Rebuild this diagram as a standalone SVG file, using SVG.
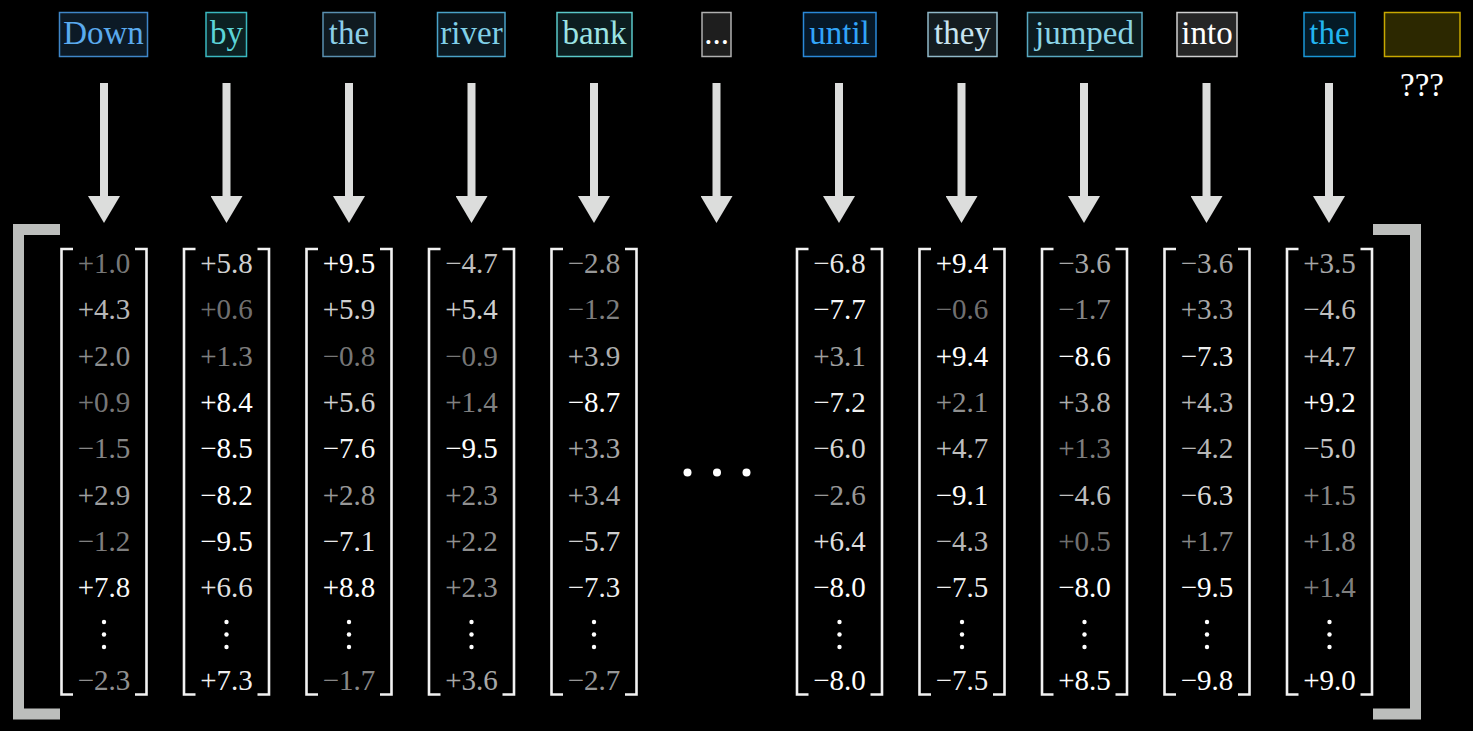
<svg xmlns="http://www.w3.org/2000/svg" width="1473" height="731" viewBox="0 0 1473 731">
<defs>
<marker id="ah" markerUnits="userSpaceOnUse" markerWidth="28" markerHeight="32" refX="0" refY="16" orient="auto"><path d="M0,0 L27,16 L0,32 z" fill="#dcdddc"/></marker>
</defs>
<style>
.word{font-family:'Liberation Serif','DejaVu Serif',serif;font-size:33px;text-anchor:middle}
.v{font-family:'Liberation Serif','DejaVu Serif',serif;font-size:29px;text-anchor:middle;fill:#ffffff}
.br{fill:none;stroke:#f2f2f2;stroke-width:2.6}
.big{fill:none;stroke:#bcbebc;stroke-width:11}
.arr{stroke:#dcdddc;stroke-width:8;fill:none}
.vd{fill:#ffffff}
</style>
<rect width="1473" height="731" fill="#000000"/>
<path class="big" d="M60,229.5 H18.5 V714 H60"/>
<path class="big" d="M1373,229.5 H1415.5 V714 H1373"/>
<g id="connectors">
<line class="arr" x1="104" y1="83" x2="104" y2="196" marker-end="url(#ah)"/>
<line class="arr" x1="226.5" y1="83" x2="226.5" y2="196" marker-end="url(#ah)"/>
<line class="arr" x1="349" y1="83" x2="349" y2="196" marker-end="url(#ah)"/>
<line class="arr" x1="471.5" y1="83" x2="471.5" y2="196" marker-end="url(#ah)"/>
<line class="arr" x1="594" y1="83" x2="594" y2="196" marker-end="url(#ah)"/>
<line class="arr" x1="716.5" y1="83" x2="716.5" y2="196" marker-end="url(#ah)"/>
<line class="arr" x1="839" y1="83" x2="839" y2="196" marker-end="url(#ah)"/>
<line class="arr" x1="961.5" y1="83" x2="961.5" y2="196" marker-end="url(#ah)"/>
<line class="arr" x1="1084" y1="83" x2="1084" y2="196" marker-end="url(#ah)"/>
<line class="arr" x1="1206.5" y1="83" x2="1206.5" y2="196" marker-end="url(#ah)"/>
<line class="arr" x1="1329" y1="83" x2="1329" y2="196" marker-end="url(#ah)"/>
</g>
<g id="col-down">
<rect x="59.5" y="12.5" width="88" height="44" fill="#0c1a26" stroke="#3f86c8" stroke-width="1.5"/>
<text class="word" x="103.5" y="43.5" fill="#5aaaee" font-family="Liberation Serif, serif">Down</text>
<path class="br" d="M73,249 H61.5 V694.5 H73 M135,249 H146.5 V694.5 H135"/>
<text class="v" x="104" y="273" fill-opacity=".49">+1.0</text>
<text class="v" x="104" y="319.3" fill-opacity=".73">+4.3</text>
<text class="v" x="104" y="365.7" fill-opacity=".56">+2.0</text>
<text class="v" x="104" y="412" fill-opacity=".48">+0.9</text>
<text class="v" x="104" y="458.3" fill-opacity=".53">−1.5</text>
<text class="v" x="104" y="504.7" fill-opacity=".63">+2.9</text>
<text class="v" x="104" y="551" fill-opacity=".51">−1.2</text>
<text class="v" x="104" y="597.3" fill-opacity=".98">+7.8</text>
<circle class="vd" cx="104" cy="622" r="2.2"/><circle class="vd" cx="104" cy="634.5" r="2.2"/><circle class="vd" cx="104" cy="647" r="2.2"/>
<text class="v" x="104" y="690" fill-opacity=".59">−2.3</text>
</g>
<g id="col-by">
<rect x="206" y="12.5" width="40.5" height="44" fill="#0c2022" stroke="#3ab8c0" stroke-width="1.5"/>
<text class="word" x="226.5" y="43.5" fill="#5cd4d8">by</text>
<path class="br" d="M195.5,249 H184 V694.5 H195.5 M257.5,249 H269 V694.5 H257.5"/>
<text class="v" x="226.5" y="273" fill-opacity=".84">+5.8</text>
<text class="v" x="226.5" y="319.3" fill-opacity=".46">+0.6</text>
<text class="v" x="226.5" y="365.7" fill-opacity=".51">+1.3</text>
<text class="v" x="226.5" y="412" fill-opacity="1">+8.4</text>
<text class="v" x="226.5" y="458.3" fill-opacity="1">−8.5</text>
<text class="v" x="226.5" y="504.7" fill-opacity="1">−8.2</text>
<text class="v" x="226.5" y="551" fill-opacity="1">−9.5</text>
<text class="v" x="226.5" y="597.3" fill-opacity=".9">+6.6</text>
<circle class="vd" cx="226.5" cy="622" r="2.2"/><circle class="vd" cx="226.5" cy="634.5" r="2.2"/><circle class="vd" cx="226.5" cy="647" r="2.2"/>
<text class="v" x="226.5" y="690" fill-opacity=".95">+7.3</text>
</g>
<g id="col-the">
<rect x="323" y="12.5" width="52" height="44" fill="#0f1a20" stroke="#5a90b0" stroke-width="1.5"/>
<text class="word" x="349" y="43.5" fill="#8ccfe8">the</text>
<path class="br" d="M318,249 H306.5 V694.5 H318 M380,249 H391.5 V694.5 H380"/>
<text class="v" x="349" y="273" fill-opacity="1">+9.5</text>
<text class="v" x="349" y="319.3" fill-opacity=".84">+5.9</text>
<text class="v" x="349" y="365.7" fill-opacity=".48">−0.8</text>
<text class="v" x="349" y="412" fill-opacity=".82">+5.6</text>
<text class="v" x="349" y="458.3" fill-opacity=".97">−7.6</text>
<text class="v" x="349" y="504.7" fill-opacity=".62">+2.8</text>
<text class="v" x="349" y="551" fill-opacity=".93">−7.1</text>
<text class="v" x="349" y="597.3" fill-opacity="1">+8.8</text>
<circle class="vd" cx="349" cy="622" r="2.2"/><circle class="vd" cx="349" cy="634.5" r="2.2"/><circle class="vd" cx="349" cy="647" r="2.2"/>
<text class="v" x="349" y="690" fill-opacity=".54">−1.7</text>
</g>
<g id="col-river">
<rect x="437.5" y="12.5" width="67.5" height="44" fill="#0c1a22" stroke="#4aa2c8" stroke-width="1.5"/>
<text class="word" x="471.5" y="43.5" fill="#80d0e8">river</text>
<path class="br" d="M440.5,249 H429 V694.5 H440.5 M502.5,249 H514 V694.5 H502.5"/>
<text class="v" x="471.5" y="273" fill-opacity=".76">−4.7</text>
<text class="v" x="471.5" y="319.3" fill-opacity=".81">+5.4</text>
<text class="v" x="471.5" y="365.7" fill-opacity=".48">−0.9</text>
<text class="v" x="471.5" y="412" fill-opacity=".52">+1.4</text>
<text class="v" x="471.5" y="458.3" fill-opacity="1">−9.5</text>
<text class="v" x="471.5" y="504.7" fill-opacity=".59">+2.3</text>
<text class="v" x="471.5" y="551" fill-opacity=".58">+2.2</text>
<text class="v" x="471.5" y="597.3" fill-opacity=".59">+2.3</text>
<circle class="vd" cx="471.5" cy="622" r="2.2"/><circle class="vd" cx="471.5" cy="634.5" r="2.2"/><circle class="vd" cx="471.5" cy="647" r="2.2"/>
<text class="v" x="471.5" y="690" fill-opacity=".68">+3.6</text>
</g>
<g id="col-bank">
<rect x="557" y="12.5" width="75" height="44" fill="#0c1e20" stroke="#5ac8c8" stroke-width="1.5"/>
<text class="word" x="594.5" y="43.5" fill="#9ce4e4">bank</text>
<path class="br" d="M563,249 H551.5 V694.5 H563 M625,249 H636.5 V694.5 H625"/>
<text class="v" x="594" y="273" fill-opacity=".62">−2.8</text>
<text class="v" x="594" y="319.3" fill-opacity=".51">−1.2</text>
<text class="v" x="594" y="365.7" fill-opacity=".70">+3.9</text>
<text class="v" x="594" y="412" fill-opacity="1">−8.7</text>
<text class="v" x="594" y="458.3" fill-opacity=".66">+3.3</text>
<text class="v" x="594" y="504.7" fill-opacity=".66">+3.4</text>
<text class="v" x="594" y="551" fill-opacity=".83">−5.7</text>
<text class="v" x="594" y="597.3" fill-opacity=".95">−7.3</text>
<circle class="vd" cx="594" cy="622" r="2.2"/><circle class="vd" cx="594" cy="634.5" r="2.2"/><circle class="vd" cx="594" cy="647" r="2.2"/>
<text class="v" x="594" y="690" fill-opacity=".61">−2.7</text>
</g>
<g id="col-ellipsis">
<rect x="702" y="12.5" width="29" height="44" fill="#1e1e1e" stroke="#b0b0b0" stroke-width="1.5"/>
<text class="word" x="716.5" y="43.5" fill="#ffffff">...</text>
<circle cx="687.5" cy="472.5" r="4" fill="#ffffff"/>
<circle cx="717" cy="472.5" r="4" fill="#ffffff"/>
<circle cx="746.5" cy="472.5" r="4" fill="#ffffff"/>
</g>
<g id="col-until">
<rect x="803.5" y="12.5" width="72.5" height="44" fill="#061828" stroke="#2a88d8" stroke-width="1.5"/>
<text class="word" x="839.5" y="43.5" fill="#32a4f8">until</text>
<path class="br" d="M808.5,249 H797 V694.5 H808.5 M870.5,249 H882 V694.5 H870.5"/>
<text class="v" x="839.5" y="273" fill-opacity=".91">−6.8</text>
<text class="v" x="839.5" y="319.3" fill-opacity=".97">−7.7</text>
<text class="v" x="839.5" y="365.7" fill-opacity=".64">+3.1</text>
<text class="v" x="839.5" y="412" fill-opacity=".94">−7.2</text>
<text class="v" x="839.5" y="458.3" fill-opacity=".85">−6.0</text>
<text class="v" x="839.5" y="504.7" fill-opacity=".61">−2.6</text>
<text class="v" x="839.5" y="551" fill-opacity=".88">+6.4</text>
<text class="v" x="839.5" y="597.3" fill-opacity="1">−8.0</text>
<circle class="vd" cx="839.5" cy="622" r="2.2"/><circle class="vd" cx="839.5" cy="634.5" r="2.2"/><circle class="vd" cx="839.5" cy="647" r="2.2"/>
<text class="v" x="839.5" y="690" fill-opacity="1">−8.0</text>
</g>
<g id="col-they">
<rect x="928" y="12.5" width="69" height="44" fill="#141c20" stroke="#90b8c8" stroke-width="1.5"/>
<text class="word" x="962.5" y="43.5" fill="#c8e4f0">they</text>
<path class="br" d="M931,249 H919.5 V694.5 H931 M993,249 H1004.5 V694.5 H993"/>
<text class="v" x="962" y="273" fill-opacity="1">+9.4</text>
<text class="v" x="962" y="319.3" fill-opacity=".46">−0.6</text>
<text class="v" x="962" y="365.7" fill-opacity="1">+9.4</text>
<text class="v" x="962" y="412" fill-opacity=".57">+2.1</text>
<text class="v" x="962" y="458.3" fill-opacity=".76">+4.7</text>
<text class="v" x="962" y="504.7" fill-opacity="1">−9.1</text>
<text class="v" x="962" y="551" fill-opacity=".73">−4.3</text>
<text class="v" x="962" y="597.3" fill-opacity=".96">−7.5</text>
<circle class="vd" cx="962" cy="622" r="2.2"/><circle class="vd" cx="962" cy="634.5" r="2.2"/><circle class="vd" cx="962" cy="647" r="2.2"/>
<text class="v" x="962" y="690" fill-opacity=".96">−7.5</text>
</g>
<g id="col-jumped">
<rect x="1027.5" y="12.5" width="114.5" height="44" fill="#0c1c20" stroke="#58a8c0" stroke-width="1.5"/>
<text class="word" x="1084.5" y="43.5" fill="#8ad4e6">jumped</text>
<path class="br" d="M1053.5,249 H1042 V694.5 H1053.5 M1115.5,249 H1127 V694.5 H1115.5"/>
<text class="v" x="1084.5" y="273" fill-opacity=".68">−3.6</text>
<text class="v" x="1084.5" y="319.3" fill-opacity=".54">−1.7</text>
<text class="v" x="1084.5" y="365.7" fill-opacity="1">−8.6</text>
<text class="v" x="1084.5" y="412" fill-opacity=".69">+3.8</text>
<text class="v" x="1084.5" y="458.3" fill-opacity=".51">+1.3</text>
<text class="v" x="1084.5" y="504.7" fill-opacity=".75">−4.6</text>
<text class="v" x="1084.5" y="551" fill-opacity=".46">+0.5</text>
<text class="v" x="1084.5" y="597.3" fill-opacity="1">−8.0</text>
<circle class="vd" cx="1084.5" cy="622" r="2.2"/><circle class="vd" cx="1084.5" cy="634.5" r="2.2"/><circle class="vd" cx="1084.5" cy="647" r="2.2"/>
<text class="v" x="1084.5" y="690" fill-opacity="1">+8.5</text>
</g>
<g id="col-into">
<rect x="1177" y="12.5" width="60" height="44" fill="#262626" stroke="#d0d0d0" stroke-width="1.5"/>
<text class="word" x="1207" y="43.5" fill="#ffffff">into</text>
<path class="br" d="M1176,249 H1164.5 V694.5 H1176 M1238,249 H1249.5 V694.5 H1238"/>
<text class="v" x="1207" y="273" fill-opacity=".68">−3.6</text>
<text class="v" x="1207" y="319.3" fill-opacity=".66">+3.3</text>
<text class="v" x="1207" y="365.7" fill-opacity=".95">−7.3</text>
<text class="v" x="1207" y="412" fill-opacity=".73">+4.3</text>
<text class="v" x="1207" y="458.3" fill-opacity=".72">−4.2</text>
<text class="v" x="1207" y="504.7" fill-opacity=".87">−6.3</text>
<text class="v" x="1207" y="551" fill-opacity=".54">+1.7</text>
<text class="v" x="1207" y="597.3" fill-opacity="1">−9.5</text>
<circle class="vd" cx="1207" cy="622" r="2.2"/><circle class="vd" cx="1207" cy="634.5" r="2.2"/><circle class="vd" cx="1207" cy="647" r="2.2"/>
<text class="v" x="1207" y="690" fill-opacity="1">−9.8</text>
</g>
<g id="col-the2">
<rect x="1304" y="12.5" width="51" height="44" fill="#041a26" stroke="#1a96d6" stroke-width="1.5"/>
<text class="word" x="1329.5" y="43.5" fill="#22b4f0">the</text>
<path class="br" d="M1298.5,249 H1287 V694.5 H1298.5 M1360.5,249 H1372 V694.5 H1360.5"/>
<text class="v" x="1329.5" y="273" fill-opacity=".67">+3.5</text>
<text class="v" x="1329.5" y="319.3" fill-opacity=".75">−4.6</text>
<text class="v" x="1329.5" y="365.7" fill-opacity=".76">+4.7</text>
<text class="v" x="1329.5" y="412" fill-opacity="1">+9.2</text>
<text class="v" x="1329.5" y="458.3" fill-opacity=".78">−5.0</text>
<text class="v" x="1329.5" y="504.7" fill-opacity=".53">+1.5</text>
<text class="v" x="1329.5" y="551" fill-opacity=".55">+1.8</text>
<text class="v" x="1329.5" y="597.3" fill-opacity=".52">+1.4</text>
<circle class="vd" cx="1329.5" cy="622" r="2.2"/><circle class="vd" cx="1329.5" cy="634.5" r="2.2"/><circle class="vd" cx="1329.5" cy="647" r="2.2"/>
<text class="v" x="1329.5" y="690" fill-opacity="1">+9.0</text>
</g>
<g id="next-word">
<rect x="1384.5" y="12.5" width="75.5" height="44" fill="#2c2800" stroke="#c8a800" stroke-width="1.5"/>
<text class="word" x="1422" y="96" fill="#ffffff">???</text>
</g>
</svg>
